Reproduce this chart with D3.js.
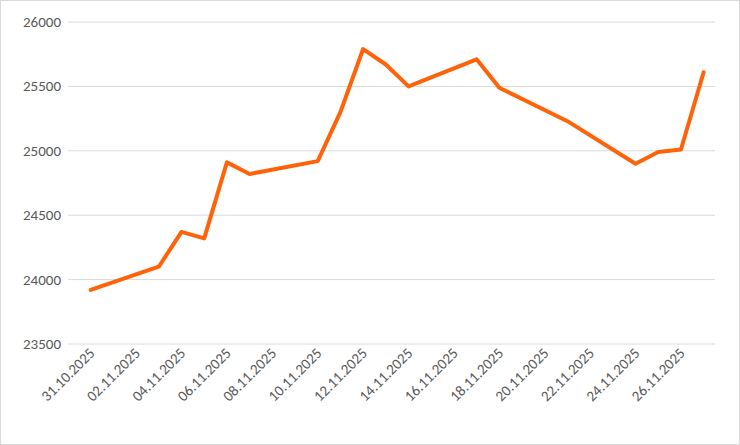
<!DOCTYPE html>
<html>
<head>
<meta charset="utf-8">
<script src="https://cdn.jsdelivr.net/npm/d3@7"></script>
<style>
  body { margin: 0; background: #fff; }
  svg { font-family: Calibri, Carlito, "Liberation Sans", sans-serif; }
</style>
</head>
<body>
<svg id="chart" width="740" height="445"></svg>
<script>
// dates as "dd.mm.yyyy"
var dates = ["31.10.2025", "03.11.2025", "04.11.2025", "05.11.2025", "06.11.2025",
  "07.11.2025", "10.11.2025", "11.11.2025", "12.11.2025", "13.11.2025", "14.11.2025",
  "17.11.2025", "18.11.2025", "21.11.2025", "24.11.2025", "25.11.2025", "26.11.2025",
  "27.11.2025"];
var values = [23920, 24100, 24370, 24320, 24910, 24820, 24920, 25300, 25790, 25670,
  25500, 25710, 25490, 25230, 24900, 24990, 25010, 25610];
var yTicks = [23500, 24000, 24500, 25000, 25500, 26000];
var xTickLabels = ["31.10.2025", "02.11.2025", "04.11.2025", "06.11.2025", "08.11.2025",
  "10.11.2025", "12.11.2025", "14.11.2025", "16.11.2025", "18.11.2025", "20.11.2025",
  "22.11.2025", "24.11.2025", "26.11.2025"];

var parse = d3.timeParse("%d.%m.%Y");
var day = 864e5;
var start = parse("31.10.2025");

var svg = d3.select("#chart");

svg.append("rect")
  .attr("x", 0.5).attr("y", 0.5)
  .attr("width", 739).attr("height", 444)
  .attr("fill", "#fff").attr("stroke", "#d9d9d9");

var x = d3.scaleTime()
  .domain([new Date(+start - day), new Date(+parse("27.11.2025") + day / 2)])
  .range([68, 715]);

var y = d3.scaleLinear()
  .domain([23500, 26000])
  .range([344, 22]);

// grid lines
svg.append("g")
  .selectAll("line")
  .data(yTicks)
  .enter().append("line")
  .attr("x1", 68).attr("x2", 715)
  .attr("y1", function (d) { return y(d); })
  .attr("y2", function (d) { return y(d); })
  .attr("stroke", "#d9d9d9")
  .attr("stroke-width", 1);

// y labels
svg.append("g")
  .selectAll("text")
  .data(yTicks)
  .enter().append("text")
  .attr("x", 61)
  .attr("y", function (d) { return y(d) + 5; })
  .attr("text-anchor", "end")
  .attr("fill", "#595959")
  .style("font-size", "15px")
  .text(function (d) { return d; });

// x labels
svg.append("g")
  .selectAll("text")
  .data(xTickLabels)
  .enter().append("text")
  .attr("transform", function (d) {
    return "translate(" + (x(parse(d)) + 5) + ",354) rotate(-45)";
  })
  .attr("text-anchor", "end")
  .attr("fill", "#595959")
  .style("font-size", "15px")
  .text(function (d) { return d; });

var points = dates.map(function (d, i) { return [parse(d), values[i]]; });

var line = d3.line()
  .x(function (d) { return x(d[0]); })
  .y(function (d) { return y(d[1]); });

svg.append("path")
  .datum(points)
  .attr("d", line)
  .attr("fill", "none")
  .attr("stroke", "#ff6309")
  .attr("stroke-width", 4)
  .attr("stroke-linejoin", "round")
  .attr("stroke-linecap", "round");
</script>
</body>
</html>
